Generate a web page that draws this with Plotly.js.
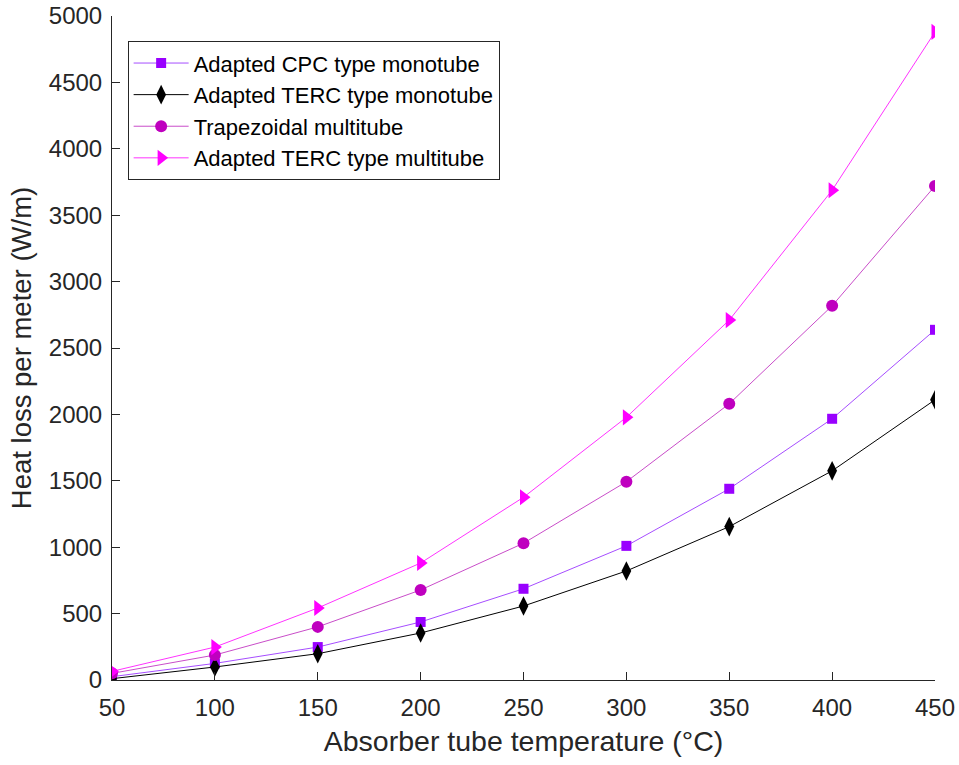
<!DOCTYPE html>
<html><head><meta charset="utf-8">
<script src="https://cdn.plot.ly/plotly-3.0.1.min.js"></script>
<style>html,body{margin:0;padding:0;background:#fff}</style>
</head><body>
<div id="chart" style="width:959px;height:765px"></div>
<script>
const temps = [50, 100, 150, 200, 250, 300, 350, 400, 450];
const cpcMono = [25, 125, 248, 437, 687, 1010, 1440, 1967, 2637];
const tercMono = [10, 98, 198, 354, 557, 821, 1155, 1575, 2110];
const trapMulti = [50, 188, 400, 678, 1030, 1493, 2080, 2818, 3720];
const tercMulti = [65, 248, 542, 881, 1376, 1978, 2710, 3688, 4880];
const names = ['Adapted CPC type monotube', 'Adapted TERC type monotube', 'Trapezoidal multitube', 'Adapted TERC type multitube'];

const FONT = 'Liberation Sans, Arial, sans-serif';
const mk = (y, name, color, lineColor, symbol, size) => ({
  x: temps, y: y, name: name, type: 'scatter', mode: 'lines+markers',
  line: {color: lineColor, width: 1},
  marker: {symbol: symbol, size: size, color: color, line: {width: 0}}
});
const data = [
  mk(cpcMono, names[0], '#9900ff', '#a64dff', 'square', 10),
  mk(tercMono, names[1], '#000000', '#000000', 'diamond-tall', 14),
  mk(trapMulti, names[2], '#bf00bf', '#c94dc9', 'circle', 12),
  mk(tercMulti, names[3], '#ff00ff', '#ff33ff', 'triangle-right', 14)
];
const axisCommon = {
  showgrid: false, zeroline: false, showline: true, linecolor: '#262626', linewidth: 1,
  ticks: 'inside', ticklen: 8, tickcolor: '#262626',
  tickfont: {family: FONT, size: 24, color: '#262626'},
  mirror: false
};
const layout = {
  width: 959, height: 765,
  margin: {l: 112, r: 24, t: 16, b: 85},
  paper_bgcolor: '#ffffff', plot_bgcolor: '#ffffff',
  showlegend: true,
  legend: {
    x: 0.019, y: 0.962, xanchor: 'left', yanchor: 'top',
    bgcolor: '#ffffff', bordercolor: '#262626', borderwidth: 1,
    font: {family: FONT, size: 22, color: '#000'},
    tracegroupgap: 0, itemwidth: 55
  },
  xaxis: Object.assign({}, axisCommon, {
    range: [50, 450], tickvals: [50, 100, 150, 200, 250, 300, 350, 400, 450],
    ticklabelstandoff: 6,
    title: {text: 'Absorber tube temperature (°C)', standoff: 11,
      font: {family: FONT, size: 28.5, color: '#262626'}}
  }),
  yaxis: Object.assign({}, axisCommon, {
    range: [0, 5000], tickvals: [0, 500, 1000, 1500, 2000, 2500, 3000, 3500, 4000, 4500, 5000],
    ticklabelstandoff: 4,
    title: {text: 'Heat loss per meter (W/m)', standoff: 9,
      font: {family: FONT, size: 27.5, color: '#262626'}}
  })
};
Plotly.newPlot('chart', data, layout, {displayModeBar: false, staticPlot: true});
</script>
</body></html>
